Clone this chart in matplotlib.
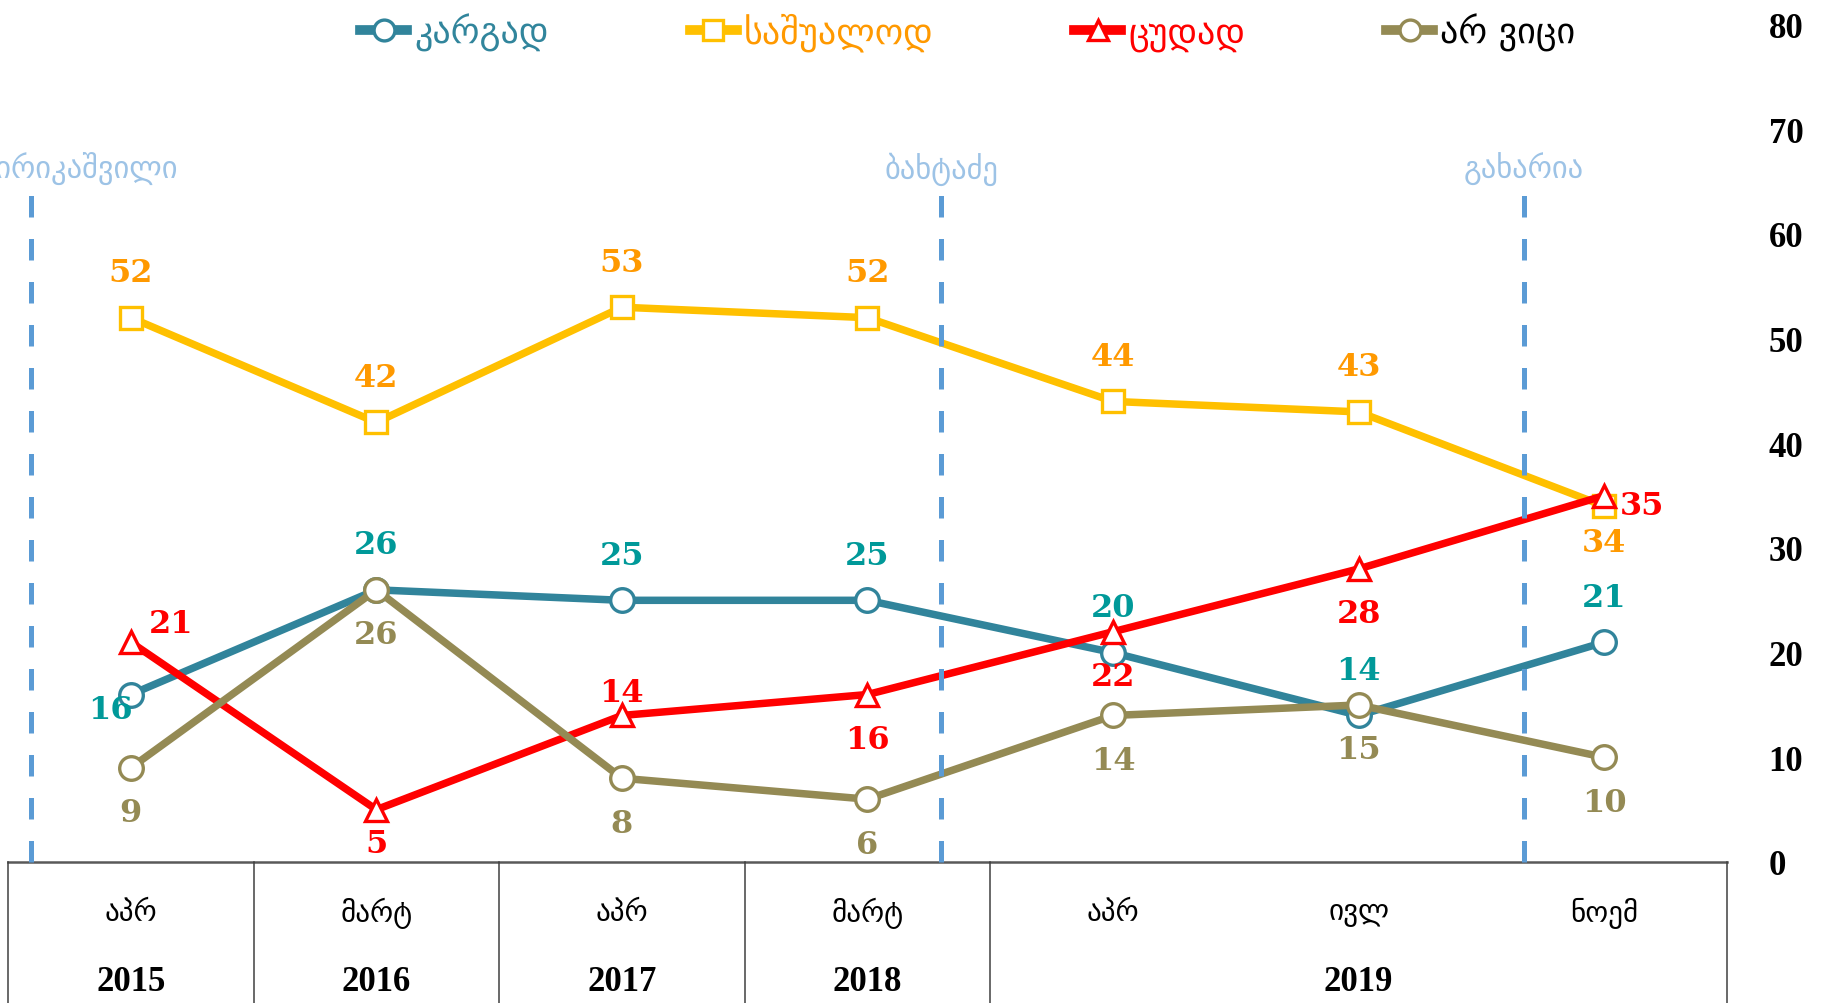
import matplotlib
matplotlib.use("Agg")
import matplotlib.pyplot as plt
from matplotlib.lines import Line2D
import matplotlib.transforms as mtransforms

# ---------------- data ----------------
months = ['აპრ', 'მარტ', 'აპრ', 'მარტ', 'აპრ', 'ივლ', 'ნოემ']
years = ['2015', '2016', '2017', '2018', '2019']
year_spans = [(0, 0), (1, 1), (2, 2), (3, 3), (4, 6)]

series_names = ['კარგად', 'საშუალოდ', 'ცუდად', 'არ ვიცი']
good = [16, 26, 25, 25, 20, 14, 21]
average = [52, 42, 53, 52, 44, 43, 34]
bad = [21, 5, 14, 16, 22, 28, 35]
dont_know = [9, 26, 8, 6, 14, 15, 10]

pm_names = ['კვირიკაშვილი', 'ბახტაძე', 'გახარია']
pm_positions = [-0.405, 3.30, 5.674]

yticks = [0, 10, 20, 30, 40, 50, 60, 70, 80]

# ---------------- style ----------------
line_colors = ['#31849B', '#FFC000', '#FF0000', '#948A54']
label_colors = ['#009999', '#FF9900', '#FF0000', '#948A54']
legend_text_colors = ['#31859C', '#FF9900', '#FF0000', '#000000']
markers = ['o', 's', '^', 'o']

# label offsets in pixels (dx, dy), positive dy = up
A, B = 45, -45
offsets = [
    [(-20, -15), (0, A), (0, A), (0, A), (0, A), (0, A), (0, A)],
    [(0, A), (0, A), (0, A), (0, A), (0, A), (0, A), (0, -36)],
    [(40, 19), (0, -34), (0, 23), (0, B), (0, B), (0, B), (38, -10)],
    [(0, B), (0, B), (0, B), (0, B), (0, B), (0, B), (0, B)],
]

W, H = 1824, 1004
fig = plt.figure(figsize=(W / 100, H / 100), dpi=100)
ax_left, ax_right = 8 / W, 1727 / W
ax_bottom, ax_top = 1 - 863 / H, 1 - 25.6 / H
ax = fig.add_axes([ax_left, ax_bottom, ax_right - ax_left, ax_top - ax_bottom])

x = list(range(len(months)))
all_series = [good, average, bad, dont_know]
px2pt = 0.72
msizes = [17, 16.5, 16.5, 17]

for i, vals in enumerate(all_series):
    ax.plot(x, vals, color=line_colors[i], lw=5.4, marker=markers[i],
            markersize=msizes[i],
            markerfacecolor='white', markeredgecolor=line_colors[i],
            markeredgewidth=2.4, zorder=3 + i, solid_joinstyle='round')
    for j, v in enumerate(vals):
        dx, dy = offsets[i][j]
        ax.annotate(str(v), (x[j], v), xytext=(dx * px2pt, dy * px2pt),
                    textcoords='offset points', ha='center', va='center',
                    fontsize=23, fontweight='bold', family='DejaVu Serif',
                    color=label_colors[i], zorder=10)

# dashed PM lines
for pos in pm_positions:
    ax.plot([pos, pos], [0, 64], color='#5B9BD5', lw=3.6,
            dashes=(4.3, 4.3), zorder=8, clip_on=False)
for k, (pos, name) in enumerate(zip(pm_positions, pm_names)):
    if k == 0:
        ax.text(0.192, 66.3, name, ha='right', va='center', fontsize=22,
                color='#9DC3E6', family='DejaVu Sans', clip_on=False)
    else:
        ax.text(pos, 66.3, name, ha='center', va='center', fontsize=22,
                color='#9DC3E6', family='DejaVu Sans')

ax.set_xlim(-0.5, 6.5)
ax.set_ylim(0, 80)
ax.set_yticks(yticks)
ax.set_yticklabels([str(t) for t in yticks], family='Liberation Serif',
                   fontweight='bold', fontsize=25)
ax.yaxis.tick_right()
ax.tick_params(axis='y', length=0, pad=30)
ax.tick_params(axis='x', length=0, labelbottom=False)
ax.set_xticks([])
for s in ax.spines.values():
    s.set_visible(False)

# table below axis
trans = mtransforms.blended_transform_factory(ax.transData, ax.transAxes)
yb = -0.2
ax.plot([-0.5, 6.5], [0, 0], transform=trans, color='#595959', lw=1.8,
        clip_on=False, zorder=2)
for bx in [-0.5, 0.5, 1.5, 2.5, 3.5, 6.5]:
    ax.plot([bx, bx], [0, yb], transform=trans, color='#404040', lw=1.1,
            clip_on=False)
for j, m in enumerate(months):
    ax.text(j, -0.0597, m, transform=trans, ha='center', va='center',
            fontsize=21, family='DejaVu Sans', color='black')
for yr, (a, b) in zip(years, year_spans):
    ax.text((a + b) / 2, -0.143, yr, transform=trans, ha='center', va='center',
            fontsize=25, family='Liberation Serif', fontweight='bold', color='black')

# legend
handles = [Line2D([0], [0], color=line_colors[i], lw=7, marker=markers[i],
                  markersize=15, markerfacecolor='white',
                  markeredgecolor=line_colors[i], markeredgewidth=2.4)
           for i in range(4)]
leg = fig.legend(handles, series_names, loc='center',
                 bbox_to_anchor=(968 / W, 1 - 33 / H), ncol=4, frameon=False,
                 handlelength=1.3, handletextpad=0.2, columnspacing=3.9,
                 prop={'family': 'DejaVu Sans', 'size': 26})
for t, c in zip(leg.get_texts(), legend_text_colors):
    t.set_color(c)

fig.savefig('out.png', dpi=100)
